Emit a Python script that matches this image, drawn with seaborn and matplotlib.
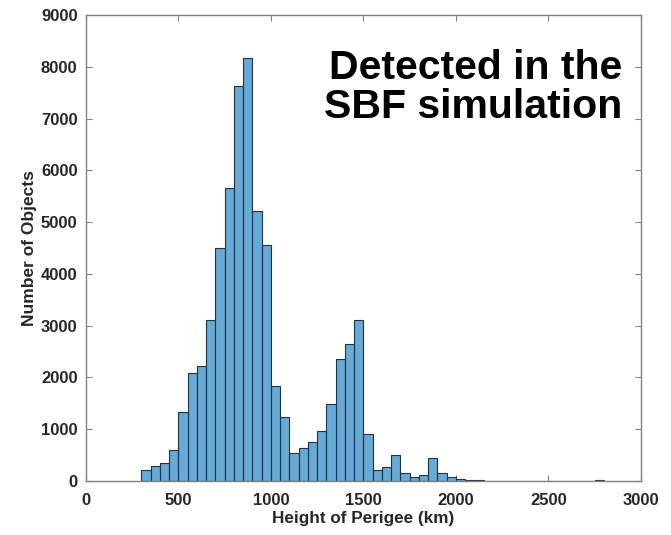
import numpy as np
import pandas as pd
import matplotlib
matplotlib.use("Agg")
import matplotlib.pyplot as plt
import seaborn as sns

# Bin left edges (km) and counts
bin_left = [300, 350, 400, 450, 500, 550, 600, 650, 700, 750, 800, 850, 900, 950,
            1000, 1050, 1100, 1150, 1200, 1250, 1300, 1350, 1400, 1450, 1500, 1550,
            1600, 1650, 1700, 1750, 1800, 1850, 1900, 1950, 2000, 2050, 2100, 2150,
            2200, 2250, 2300, 2350, 2400, 2450, 2500, 2550, 2600, 2650, 2700, 2750]
counts = [220, 290, 350, 600, 1340, 2080, 2230, 3110, 4500, 5660, 7620, 8160, 5220, 4550,
          1830, 1240, 540, 630, 760, 970, 1480, 2350, 2650, 3100, 900, 220,
          270, 500, 160, 80, 110, 440, 150, 70, 30, 15, 10, 8,
          6, 5, 4, 4, 3, 3, 3, 3, 3, 4, 6, 15]
bin_width = 50
x_ticks = [0, 500, 1000, 1500, 2000, 2500, 3000]
y_ticks = [0, 1000, 2000, 3000, 4000, 5000, 6000, 7000, 8000, 9000]

sns.set_theme(style="white")
plt.rcParams['font.family'] = ['Liberation Sans', 'DejaVu Sans']

df = pd.DataFrame({"h": np.array(bin_left) + bin_width / 2, "n": counts})
edges = list(bin_left) + [bin_left[-1] + bin_width]

fig = plt.figure(figsize=(6.71, 5.35), dpi=100)
ax = fig.add_axes([0.128, 0.101, 0.827, 0.871])
sns.histplot(data=df, x="h", weights="n", bins=edges, ax=ax,
             color="#0072BD", alpha=0.6, edgecolor="#25313b", linewidth=0.8)

ax.set_xlim(0, 3000)
ax.set_ylim(0, 9000)
ax.set_xticks(x_ticks)
ax.set_yticks(y_ticks)
ax.set_xticklabels([str(t) for t in x_ticks], fontweight="bold", fontsize=12, color="#262626")
ax.set_yticklabels([str(t) for t in y_ticks], fontweight="bold", fontsize=12, color="#262626")
ax.set_xlabel("Height of Perigee (km)", fontweight="bold", fontsize=12.3, color="#262626", labelpad=2)
ax.set_ylabel("Number of Objects", fontweight="bold", fontsize=12.5, color="#262626", labelpad=3)
ax.tick_params(axis="x", pad=9)
ax.tick_params(axis="y", pad=6)
ax.tick_params(direction="in", length=4, width=0.8, color="#808080",
               top=True, right=True, bottom=True, left=True)
for s in ax.spines.values():
    s.set_visible(True)
    s.set_color("#808080")
    s.set_linewidth(1.0)

ax.text(0.966, 0.928, "Detected in the\nSBF simulation", transform=ax.transAxes,
        ha="right", va="top", fontsize=29.5, fontweight="bold", color="black",
        linespacing=1.05)

fig.savefig("out.png", dpi=100)
